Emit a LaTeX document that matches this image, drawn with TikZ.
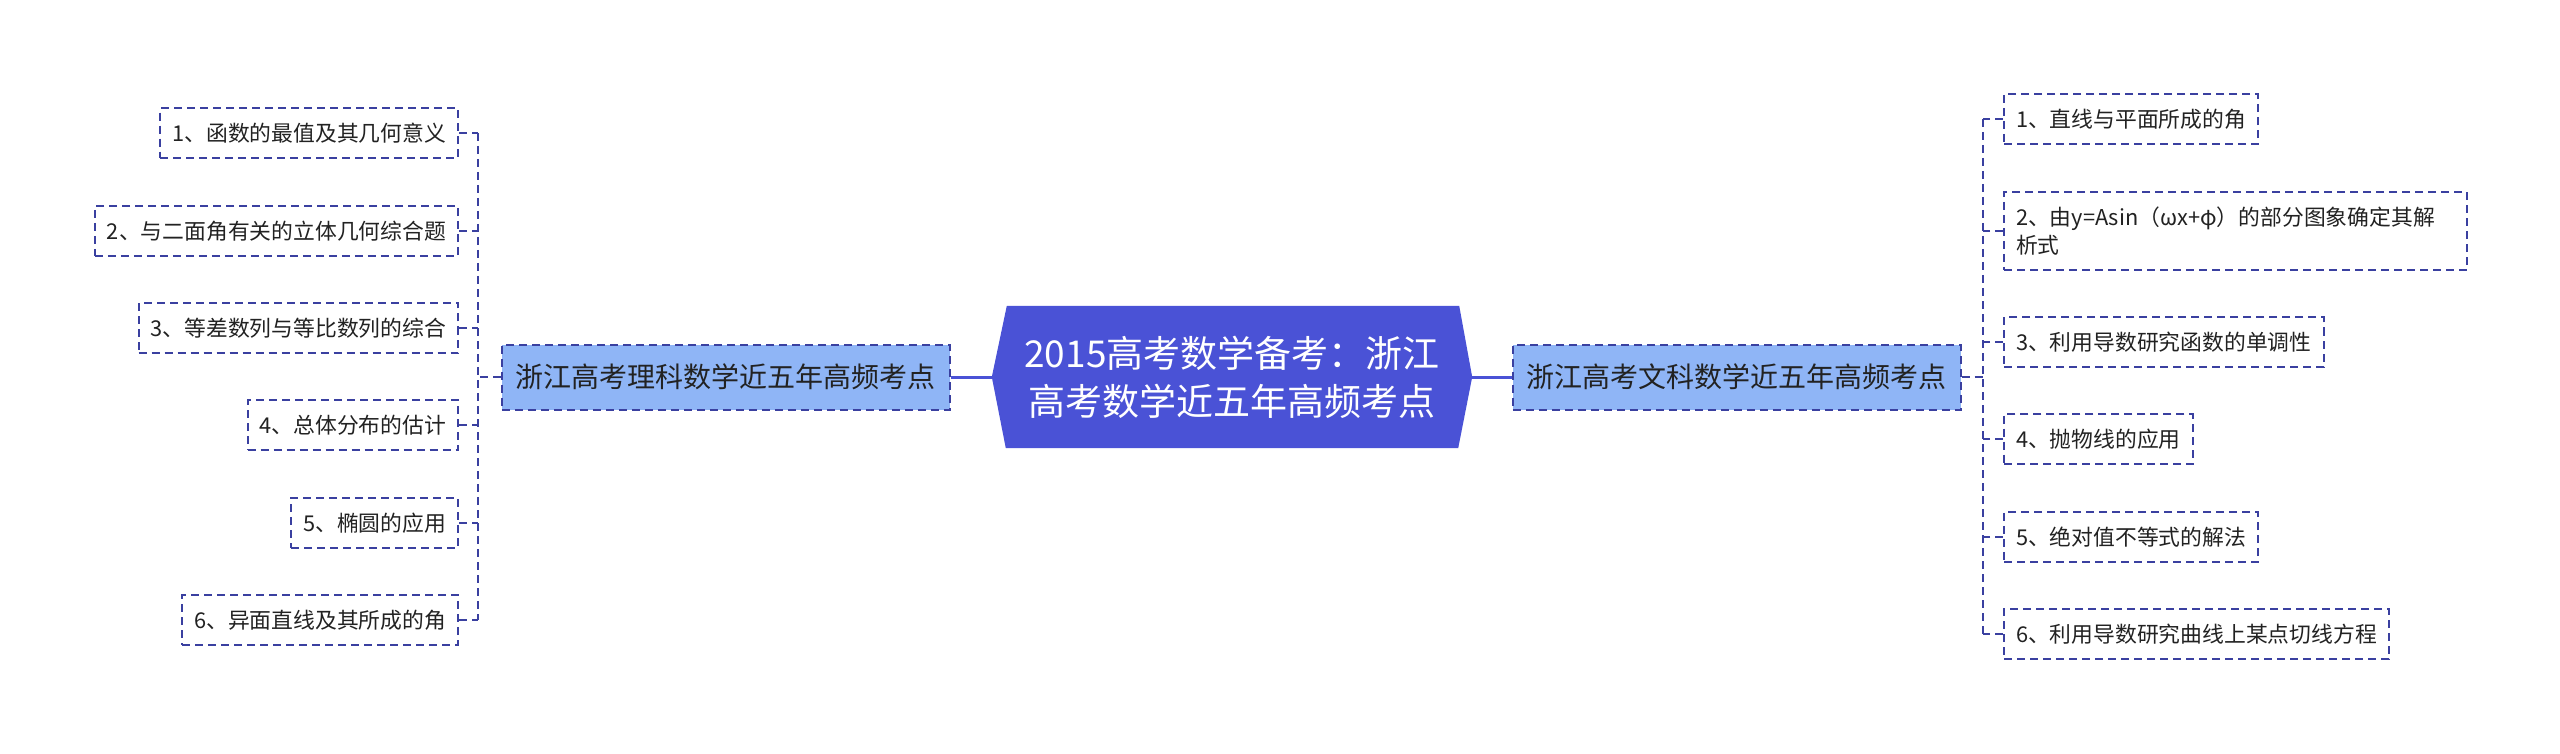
\documentclass[tikz,border=0pt]{standalone}
\usepackage{fontspec}
\setmainfont{Noto Sans CJK SC}
\definecolor{centerfill}{RGB}{74,82,214}
\definecolor{branchfill}{RGB}{143,181,246}
\definecolor{dashcol}{RGB}{58,64,160}
\definecolor{textcol}{RGB}{34,34,34}
\begin{document}
\begin{tikzpicture}[x=1pt,y=-1pt,
  leaf/.style={draw=dashcol, line width=2pt, dash pattern=on 8pt off 5pt, fill=white,
    inner xsep=12pt, inner ysep=0pt, minimum height=50pt, text=textcol,
    font=\fontsize{21.8}{28}\selectfont},
  branch/.style={draw=dashcol, line width=2pt, dash pattern=on 8pt off 5pt, fill=branchfill,
    inner xsep=14pt, inner ysep=0pt, minimum height=65pt, text=textcol,
    font=\fontsize{28}{34}\selectfont},
  conn/.style={draw=dashcol, line width=2pt, dash pattern=on 8pt off 5pt},
  mainconn/.style={draw=centerfill, line width=3pt}
]
\useasboundingbox (0,0) rectangle (2560,754);

% central node
\node[minimum width=480pt, minimum height=142pt, inner sep=0pt] (c) at (1232,377) {};
\fill[centerfill] (c.west) -- ([xshift=15pt]c.north west) -- ([xshift=-13pt]c.north east) -- (c.east)
  -- ([xshift=-14pt]c.south east) -- ([xshift=14pt]c.south west) -- cycle;
\node[text=white, align=center, font=\fontsize{37}{48}\selectfont] (ct) at (c.center)
  {2015高考数学备考：浙江\\高考数学近五年高频考点};

% branches
\node[branch] (bl) at (725.5,377) {浙江高考理科数学近五年高频考点};
\node[branch] (br) at (1736.5,377) {浙江高考文科数学近五年高频考点};
\draw[mainconn] (c.west) -- (bl.east);
\draw[mainconn] (c.east) -- (br.west);

% trunks
\coordinate (tl) at (478,377);
\coordinate (tr) at (1983,377);

% left leaves
\node[leaf, anchor=east] (l1) at (459,133) {1、函数的最值及其几何意义};
\node[leaf, anchor=east] (l2) at (459,231) {2、与二面角有关的立体几何综合题};
\node[leaf, anchor=east] (l3) at (459,328) {3、等差数列与等比数列的综合};
\node[leaf, anchor=east] (l4) at (459,425) {4、总体分布的估计};
\node[leaf, anchor=east] (l5) at (459,523) {5、椭圆的应用};
\node[leaf, anchor=east] (l6) at (459,620) {6、异面直线及其所成的角};

\draw[conn] (bl.west) -- (tl);
\draw[conn] (l1.east -| tl) -- (l6.east -| tl);
\foreach \n in {l1,l2,l3,l4,l5,l6} { \draw[conn] (\n.east) -- (\n.east -| tl); }

% right leaves
\node[leaf, anchor=west] (r1) at (2003,119) {1、直线与平面所成的角};
\node[leaf, anchor=west, text width=439pt, align=left, minimum height=78pt] (r2) at (2003,231)
  {2、由y=Asin（ωx+φ）的部分图象确定其解\\析式};
\node[leaf, anchor=west] (r3) at (2003,342) {3、利用导数研究函数的单调性};
\node[leaf, anchor=west] (r4) at (2003,439) {4、抛物线的应用};
\node[leaf, anchor=west] (r5) at (2003,537) {5、绝对值不等式的解法};
\node[leaf, anchor=west] (r6) at (2003,634) {6、利用导数研究曲线上某点切线方程};

\draw[conn] (br.east) -- (tr);
\draw[conn] (r1.west -| tr) -- (r6.west -| tr);
\foreach \n in {r1,r2,r3,r4,r5,r6} { \draw[conn] (\n.west) -- (\n.west -| tr); }
\end{tikzpicture}
\end{document}
